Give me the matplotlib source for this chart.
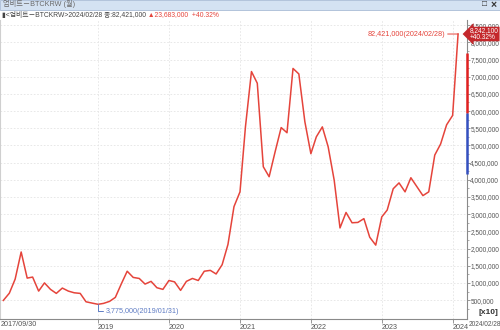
import matplotlib
matplotlib.use("Agg")
import matplotlib.pyplot as plt
import matplotlib.transforms as mtransforms
from matplotlib.patches import Rectangle
from matplotlib.text import Annotation
import numpy as np
import pandas as pd

plt.rcParams["font.family"] = ["Liberation Sans", "Noto Sans CJK KR", "DejaVu Sans"]

# monthly close, Upbit BTC/KRW, plotted in units of KRW/10 ([x10])
DATES = list(pd.date_range("2017-09-30", periods=77, freq=pd.offsets.MonthEnd())) \
    + [pd.Timestamp("2024-02-28")]
CLOSE = [
    490000, 700000, 1110000, 1900000,                                     # 2017
    1140000, 1170000, 762000, 1000000, 812000, 695000,
    850000, 762000, 713000, 695000, 451000, 413000,                       # 2018
    377500, 404000, 462000, 579000, 975000, 1340000,
    1160000, 1130000, 966000, 1045000, 860000, 812000,                    # 2019
    1070000, 1030000, 783000, 1045000, 1130000, 1070000,
    1340000, 1365000, 1260000, 1530000, 2120000, 3220000,                 # 2020
    3650000, 5540000, 7150000, 6810000, 4380000, 4090000,
    4820000, 5520000, 5370000, 7240000, 7080000, 5690000,                 # 2021
    4760000, 5250000, 5540000, 4960000, 3990000, 2600000,
    3050000, 2750000, 2760000, 2870000, 2330000, 2100000,                 # 2022
    2920000, 3120000, 3740000, 3910000, 3650000, 4060000,
    3800000, 3540000, 3650000, 4720000, 5040000, 5600000,                 # 2023
    5873800, 8242100,                                                     # 2024
]
SCALE = 10
CHANGE = 23683000
CHANGE_PCT = 40.32
YEAR_TICKS = ["2019", "2020", "2021", "2022", "2023", "2024"]
Y_TICKS = list(range(500000, 8500001, 500000))
RED_SPAN = (7700000, 5940000)
BLUE_SPAN = (5940000, 4170000)

RED = "#e5443b"
BLUE = "#5f7cc4"
GRAY = "#555555"

fig = plt.figure(figsize=(5, 3.3), dpi=100)
fig.patch.set_facecolor("white")
W, H = 500, 330
ax = fig.add_axes([0, 11 / H, 467 / W, 299 / H])

ax.plot(DATES, CLOSE, color=RED, lw=1.1, zorder=3)

ax.set_xlim(pd.Timestamp("2017-09-13"), pd.Timestamp("2024-04-14"))
ax.set_ylim(-50000, 8650000)

# right value axis
ax.yaxis.tick_right()
ax.set_yticks(Y_TICKS)
ax.set_yticklabels([f"{v:,}" for v in Y_TICKS])
ax.set_yticks(list(range(250000, 8650000, 500000)), minor=True)
ax.tick_params(axis="y", which="major", length=2, width=0.6, color="#888888",
               labelsize=4.7, labelcolor=GRAY, pad=0.4)
ax.tick_params(axis="y", which="minor", length=1.2, width=0.5, color="#888888")

# year ticks at the first month of each year
year_dates = [d for d in DATES if d.month == 1 and str(d.year) in YEAR_TICKS]
ax.set_xticks(year_dates)
ax.set_xticklabels(YEAR_TICKS)
ax.tick_params(axis="x", length=3, width=0.6, color="#888888", labelsize=5.2,
               labelcolor=GRAY, pad=0.5)
for lab in ax.get_xticklabels():
    lab.set_horizontalalignment("left")

ax.grid(True, axis="both", which="major", color="#e4e4e4", lw=0.6, ls=(0, (2, 2)))
ax.set_axisbelow(True)
ax.spines["top"].set_visible(False)
ax.spines["left"].set_color("#cfcfcf")
ax.spines["right"].set_color("#8a8a8a")
ax.spines["bottom"].set_color("#8a8a8a")
for sp in ax.spines.values():
    sp.set_linewidth(0.8)

# coloured bars on the value axis
trans = mtransforms.blended_transform_factory(ax.transAxes, ax.transData)
ax.plot([1, 1], RED_SPAN, color="#e02020", lw=1.8, transform=trans,
        clip_on=False, zorder=4, solid_capstyle="butt")
ax.plot([1, 1], BLUE_SPAN, color="#3450c0", lw=1.8, transform=trans,
        clip_on=False, zorder=4, solid_capstyle="butt")

# max / min markers
imax = int(np.argmax(CLOSE))
imin = int(np.argmin(CLOSE))
ax.annotate(f"{CLOSE[imax] * SCALE:,}({DATES[imax]:%Y/%m/%d})",
            xy=(DATES[imax], CLOSE[imax]), xytext=(-9.5, 0),
            textcoords="offset points", ha="right", va="center",
            color=RED, fontsize=5.2,
            arrowprops=dict(arrowstyle="-", color=RED, lw=0.7, shrinkA=0,
                            shrinkB=0, relpos=(1, 0.5)))
ax.annotate(f"{CLOSE[imin] * SCALE:,}({DATES[imin]:%Y/%m/%d})",
            xy=(DATES[imin], CLOSE[imin]), xytext=(5.5, -5),
            textcoords="offset points", ha="left", va="center",
            color=BLUE, fontsize=5.2,
            arrowprops=dict(arrowstyle="-", color=BLUE, lw=0.7, shrinkA=0,
                            shrinkB=0, relpos=(0, 0.5),
                            connectionstyle="angle,angleA=0,angleB=90,rad=0"))

# current price tag
ax.annotate(f"{CLOSE[-1]:,}\n+{CHANGE_PCT:.2f}%", xy=(1.0, CLOSE[-1]),
            xycoords=trans, xytext=(2.2, 0), textcoords="offset points",
            ha="left", va="center", color="white", fontsize=4.7,
            linespacing=0.85, annotation_clip=False, zorder=6,
            bbox=dict(boxstyle="larrow,pad=0.1", fc="#c4282c", ec="none"))

# bottom extra labels
fig.text(1 / W, 1 - 321 / H, "2017/09/30", ha="left", va="top", fontsize=5.2,
         color=GRAY)
fig.text(469 / W, 1 - 321 / H, f"{DATES[-1]:%Y/%m/%d}", ha="left", va="top",
         fontsize=4.7, color=GRAY)
fig.text(498 / W, 1 - 313 / H, "[x10]", ha="right", va="center", fontsize=6,
         fontweight="bold", color="#333333")

# window header
fig.add_artist(Rectangle((0, 1 - 9.5 / H), 1, 9.5 / H, transform=fig.transFigure,
                         fc="#d4e2f2", ec="#a9bcd6", lw=0.6))
fig.text(3 / W, 1 - 4 / H, "업비트－BTCKRW (월)", ha="left", va="center",
         fontsize=5.2, color="#6a6a6a")
fig.text(485 / W, 1 - 4.5 / H, "□", ha="center", va="center", fontsize=6,
         color="#333333", fontweight="bold")
fig.text(494 / W, 1 - 4.5 / H, "×", ha="center", va="center", fontsize=7.5,
         color="#333333", fontweight="bold")

info = fig.text(2 / W, 1 - 15 / H,
                f"▮<업비트－BTCKRW>{DATES[-1]:%Y/%m/%d} 종:{CLOSE[-1] * SCALE:,}",
                ha="left", va="center", fontsize=4.9, color="#444444")
fig.add_artist(Annotation(
    f" ▲{CHANGE:,}  +{CHANGE_PCT:.2f}%", xy=(1, 0.5), xycoords=info,
    ha="left", va="center", fontsize=4.9, color=RED))

fig.savefig("out.png", dpi=100)
